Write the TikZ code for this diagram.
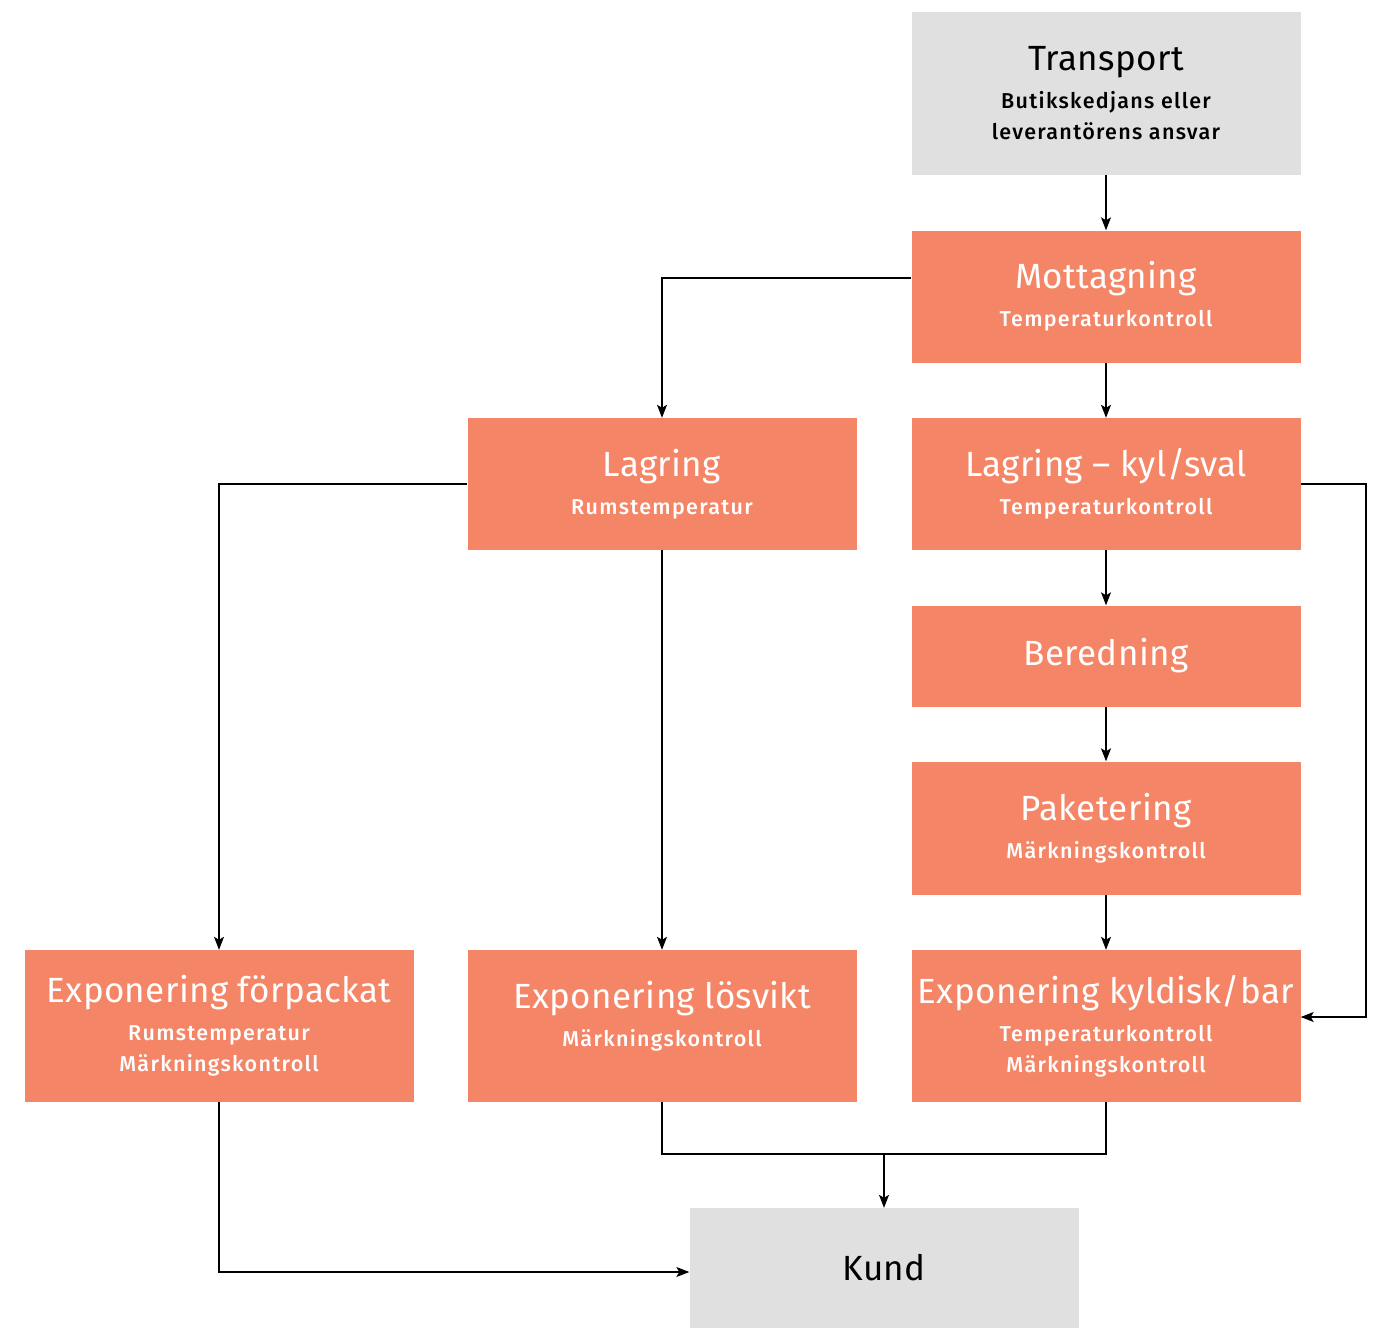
\documentclass[tikz,border=0pt]{standalone}
\usepackage{fontspec}
\setmainfont{Fira Sans}
\newfontfamily\subfam{Fira Sans}[UprightFont=* Medium, LetterSpace=6]
\usetikzlibrary{arrows.meta}
\definecolor{boxorange}{HTML}{F48566}
\definecolor{boxgray}{HTML}{E0E0E0}
\newcommand{\ttl}{\normalfont\fontsize{35}{40}\selectfont\addfontfeatures{LetterSpace=1}}
\newcommand{\sbt}{\subfam\fontsize{21.5}{31}\selectfont}
\tikzset{
  flowbox/.style={rectangle, minimum width=389pt, inner sep=0pt, align=center, font=\sbt},
  orangebox/.style={flowbox, fill=boxorange, text=white},
  graybox/.style={flowbox, fill=boxgray, text=black},
  conn/.style={draw=black, line width=1.1pt, -{Stealth[length=13pt,width=10pt,inset=3pt]}},
  seg/.style={draw=black, line width=1.1pt}
}
\begin{document}
\begin{tikzpicture}[x=1pt,y=-1pt]
\useasboundingbox (0,0) rectangle (1380,1328);
% boxes (centers in px)
\node[graybox, minimum height=163pt] (transport) at (1106,93) {{\ttl Transport}\\[7pt]Butikskedjans eller\\leverantörens ansvar};
\node[orangebox, minimum height=132pt] (mott) at (1106,296.5) {{\ttl Mottagning}\\[7pt]Temperaturkontroll};
\node[orangebox, minimum height=132pt] (lagr) at (662,484) {{\ttl Lagring}\\[7pt]Rumstemperatur};
\node[orangebox, minimum height=132pt] (lagrkyl) at (1106,484) {{\ttl Lagring – kyl/sval}\\[7pt]Temperaturkontroll};
\node[orangebox, minimum height=101pt] (bered) at (1106,656) {\ttl Beredning};
\node[orangebox, minimum height=133pt] (paket) at (1106,828) {{\ttl Paketering}\\[7pt]Märkningskontroll};
\node[orangebox, minimum height=152pt] (expforp) at (219,1026) {{\ttl Exponering förpackat}\\[7pt]Rumstemperatur\\Märkningskontroll};
\node[orangebox, minimum height=152pt] (explos) at (662,1026) {{\ttl Exponering lösvikt}\\[7pt]Märkningskontroll\\[-6pt]{}};
\node[orangebox, minimum height=152pt] (expkyl) at (1106,1026) {{\ttl Exponering kyldisk/bar}\\[7pt]Temperaturkontroll\\Märkningskontroll};
\node[graybox, minimum height=120pt] (kund) at (884,1268) {\ttl Kund};
% junction
\coordinate (join) at (884,1154);
% connectors
\draw[conn] (transport.south) -- (mott.north);
\draw[conn] (mott.west |- 0,278) -| (lagr.north);
\draw[conn] (mott.south) -- (lagrkyl.north);
\draw[conn] (lagr.west) -| (expforp.north);
\draw[conn] (lagr.south) -- (explos.north);
\draw[conn] (lagrkyl.east) -- (1366,484) |- (expkyl.east |- 0,1017);
\draw[conn] (lagrkyl.south) -- (bered.north);
\draw[conn] (bered.south) -- (paket.north);
\draw[conn] (paket.south) -- (expkyl.north);
\draw[seg] (explos.south) |- (join);
\draw[seg] (expkyl.south) |- (join);
\draw[conn] (join) -- (kund.north);
\draw[conn] (expforp.south) |- (kund.west |- 0,1272);
\end{tikzpicture}
\end{document}
